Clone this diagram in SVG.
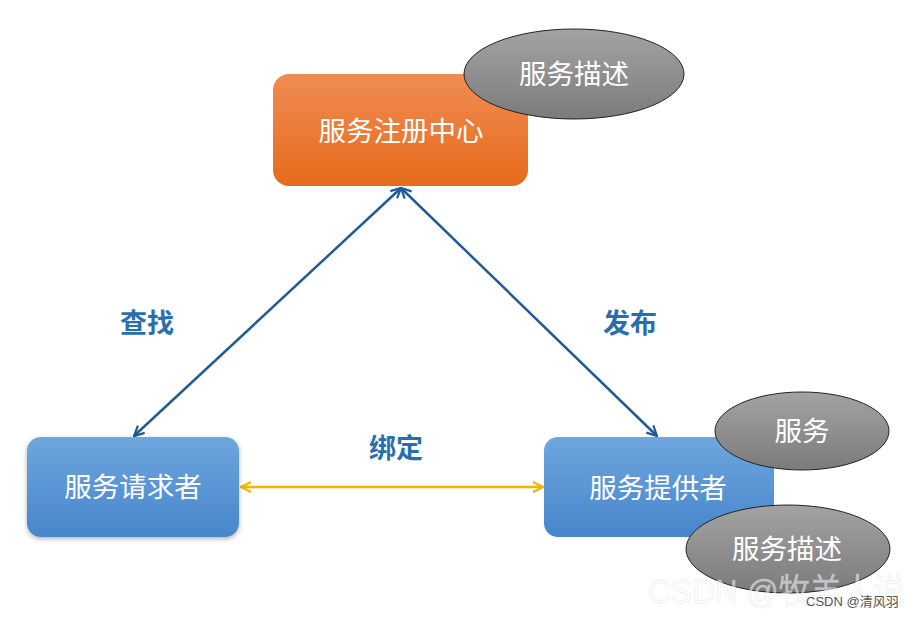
<svg xmlns="http://www.w3.org/2000/svg" width="920" height="618" viewBox="0 0 920 618">
<defs>
<linearGradient id="gOrange" x1="0" y1="0" x2="0" y2="1"><stop offset="0" stop-color="#f08c52"/><stop offset="1" stop-color="#e76b1c"/></linearGradient>
<linearGradient id="gBlue" x1="0" y1="0" x2="0" y2="1"><stop offset="0" stop-color="#6ea6de"/><stop offset="1" stop-color="#4786cb"/></linearGradient>
<linearGradient id="gGray" x1="0" y1="0" x2="0" y2="1"><stop offset="0" stop-color="#a3a3a3"/><stop offset="1" stop-color="#7b7b7b"/></linearGradient>
<filter id="sh" x="-10%" y="-10%" width="120%" height="130%"><feDropShadow dx="0" dy="2" stdDeviation="2.5" flood-color="#000" flood-opacity="0.3"/></filter>
<marker id="aBlue" viewBox="0 0 12 12" refX="11" refY="6" markerWidth="12" markerHeight="12" markerUnits="userSpaceOnUse" orient="auto-start-reverse"><path d="M1,1 L11,6 L1,11" fill="none" stroke="#205b97" stroke-width="2.2"/></marker>
<marker id="aYellow" viewBox="0 0 12 12" refX="11" refY="6" markerWidth="12" markerHeight="12" markerUnits="userSpaceOnUse" orient="auto-start-reverse"><path d="M1,1 L11,6 L1,11" fill="none" stroke="#f4b400" stroke-width="2.2"/></marker>
</defs>
<style>
.nt{font-family:"Noto Sans CJK SC","Liberation Sans",sans-serif;fill:#fff;font-size:27.5px;text-anchor:middle;dominant-baseline:central}
.lb{font-family:"Noto Sans CJK SC","Liberation Sans",sans-serif;fill:#2a6fad;font-size:27px;font-weight:600;text-anchor:middle;dominant-baseline:central}
.el{fill:url(#gGray);stroke:#222;stroke-width:1}
</style>
<rect width="920" height="618" fill="#fff"/>
<g id="connectors" fill="none" stroke-width="2.5">
<line x1="134" y1="436" x2="401" y2="188" stroke="#205b97" marker-start="url(#aBlue)" marker-end="url(#aBlue)"/>
<line x1="401" y1="188" x2="657" y2="436" stroke="#205b97" marker-start="url(#aBlue)" marker-end="url(#aBlue)"/>
<line x1="241" y1="487" x2="543" y2="487" stroke="#f4b400" marker-start="url(#aYellow)" marker-end="url(#aYellow)"/>
</g>
<g id="registry">
<rect x="273" y="74" width="255" height="112" rx="16" fill="url(#gOrange)"/>
<text class="nt" x="401" y="129">服务注册中心</text>
</g>
<g id="desc-top">
<ellipse class="el" cx="574" cy="74" rx="110" ry="45"/>
<text class="nt" x="574" y="72">服务描述</text>
</g>
<g id="requester">
<rect x="27" y="437" width="212" height="100" rx="14" fill="url(#gBlue)" filter="url(#sh)"/>
<text class="nt" x="133" y="485">服务请求者</text>
</g>
<g id="provider">
<rect x="544" y="437" width="230" height="100" rx="14" fill="url(#gBlue)"/>
<text class="nt" x="658" y="486">服务提供者</text>
</g>
<g id="service">
<ellipse class="el" cx="802" cy="431" rx="87" ry="39"/>
<text class="nt" x="802" y="429">服务</text>
</g>
<g id="desc-bottom">
<ellipse class="el" cx="788" cy="549" rx="102" ry="44"/>
<text class="nt" x="787" y="547">服务描述</text>
</g>
<g id="labels">
<text class="lb" x="147" y="321">查找</text>
<text class="lb" x="630" y="321">发布</text>
<text class="lb" x="396" y="446">绑定</text>
</g>
<g id="watermark" font-family="'Liberation Sans','Noto Sans CJK SC',sans-serif">
<text x="648" y="603" font-size="34" textLength="257" lengthAdjust="spacingAndGlyphs" fill="#ffffff" fill-opacity="0.55" stroke="#cccccc" stroke-opacity="0.35" stroke-width="0.8">CSDN @牧羊人说</text>
<text x="806" y="606" font-size="13" fill="#555">CSDN @清风羽</text>
</g>
</svg>
